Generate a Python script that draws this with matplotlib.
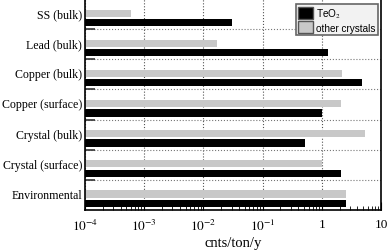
import matplotlib.pyplot as plt
import numpy as np
from matplotlib.patches import Patch
from matplotlib.ticker import LogLocator, NullFormatter, FixedLocator

categories = ['SS (bulk)', 'Lead (bulk)', 'Copper (bulk)', 'Copper (surface)',
              'Crystal (bulk)', 'Crystal (surface)', 'Environmental']
teo2 = [0.031, 1.25, 4.8, 1.0, 0.52, 2.1, 2.6]
other = [6e-4, 0.017, 2.2, 2.1, 5.3, 1.0, 2.6]
xticklabels = ['$10^{-4}$', '$10^{-3}$', '$10^{-2}$', '$10^{-1}$', '1', '10']

serif = ['Liberation Serif', 'DejaVu Serif']
plt.rcParams['font.family'] = serif
plt.rcParams['mathtext.fontset'] = 'stix'

fig = plt.figure(figsize=(3.88, 2.51), dpi=100)
ax = fig.add_axes([85 / 388, 1 - 211 / 251, 296 / 388, 211 / 251])

y = np.arange(len(categories))
h = 0.24
left = 1e-4
ax.barh(y + 0.47, np.array(other) - left, left=left, height=h, color='#c8c8c8', zorder=2)
ax.barh(y + 0.78, np.array(teo2) - left, left=left, height=h, color='black', zorder=2)

ax.set_xscale('log')
ax.set_xlim(1e-4, 10)
ax.set_ylim(len(categories), 0)

ax.set_xticks([1e-4, 1e-3, 1e-2, 1e-1, 1, 10])
ax.set_xticklabels(xticklabels, fontsize=9.5)
ax.xaxis.set_minor_locator(LogLocator(base=10, subs=np.arange(2, 10), numticks=20))
ax.xaxis.set_minor_formatter(NullFormatter())
ax.tick_params(axis='x', which='major', direction='in', length=6, width=0.8, pad=6)
ax.tick_params(axis='x', which='minor', direction='in', length=3, width=0.6)

ax.set_yticks(y + 0.45)
ax.set_yticklabels(categories, fontsize=8.6)
ax.tick_params(axis='y', which='major', length=0, pad=2)
ax.yaxis.set_minor_locator(FixedLocator(y[:-1] + 1))
ax.tick_params(axis='y', which='minor', direction='in', length=7, width=1.2, color='#333333')

ax.grid(axis='x', which='major', linestyle=':', color='#555555', linewidth=0.8, zorder=0)
ax.grid(axis='y', which='minor', linestyle=':', color='#777777', linewidth=0.8, zorder=0)
ax.set_axisbelow(True)

for s in ax.spines.values():
    s.set_linewidth(1.2)

ax.set_xlabel('cnts/ton/y', fontsize=10.5, labelpad=2)

handles = [Patch(facecolor='black', edgecolor='#555555', label='TeO$_2$'),
           Patch(facecolor='#c8c8c8', edgecolor='#555555', label='other crystals')]
leg = ax.legend(handles=handles, loc='upper right', bbox_to_anchor=(0.995, 0.985),
                prop={'family': ['Liberation Sans', 'DejaVu Sans'], 'size': 7.2},
                frameon=True, fancybox=False, handlelength=1.5, handleheight=1.5,
                handletextpad=0.3, labelspacing=0.15, borderpad=0.2, borderaxespad=0.2)
leg.get_frame().set_facecolor('#f2f2f2')
leg.get_frame().set_edgecolor('#666666')
leg.get_frame().set_linewidth(1.2)
leg.get_frame().set_alpha(1)

fig.savefig('out.png', dpi=100)
